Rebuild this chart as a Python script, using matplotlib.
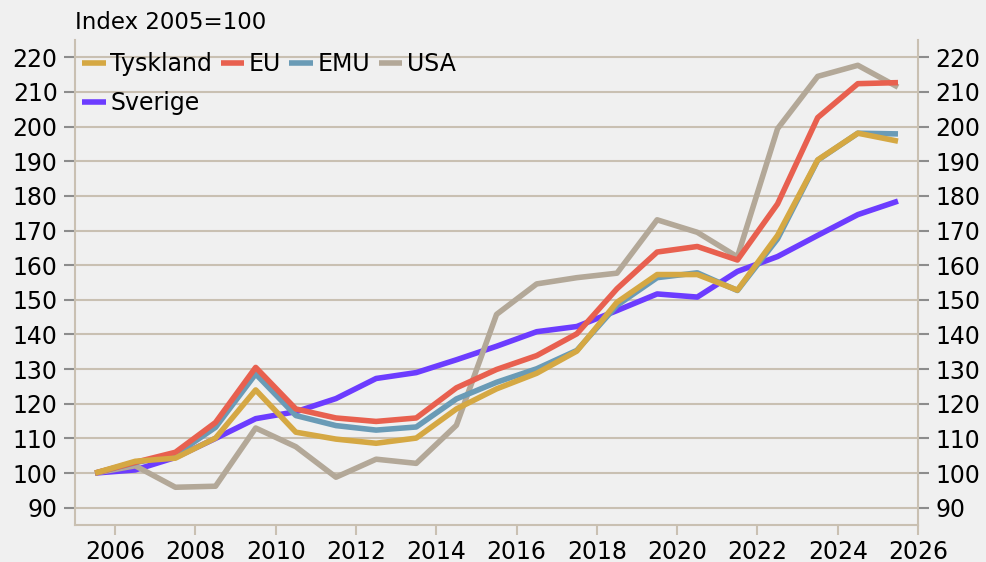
import numpy as np
import matplotlib
matplotlib.use("Agg")
import matplotlib.pyplot as plt

# Årsdata, ritas mitt i året (2005.5 ... 2025.5)
years = np.arange(2005, 2026)

tyskland = [100.0, 103.4, 104.3, 110.1, 124.0, 111.8, 109.8, 108.6, 110.1, 118.5,
            124.3, 128.8, 135.2, 149.3, 157.3, 157.3, 152.8, 168.6, 190.4, 198.1, 195.8]
eu = [100.0, 103.1, 106.0, 114.6, 130.5, 118.5, 115.9, 114.9, 115.9, 124.6,
      129.9, 133.9, 140.2, 153.2, 163.8, 165.4, 161.5, 177.7, 202.6, 212.4, 212.7]
emu = [100.0, 103.0, 105.3, 113.2, 128.6, 116.6, 113.7, 112.4, 113.3, 121.4,
       126.2, 130.1, 135.4, 148.4, 156.4, 157.8, 152.7, 167.6, 190.3, 198.1, 197.9]
usa = [100.0, 102.1, 95.9, 96.2, 113.0, 107.6, 98.8, 104.0, 102.8, 113.8,
       145.8, 154.6, 156.4, 157.7, 173.1, 169.5, 162.4, 199.4, 214.5, 217.7, 211.4]
sverige = [100.0, 100.9, 104.5, 110.0, 115.7, 117.7, 121.5, 127.3, 129.0, 132.7,
           136.6, 140.8, 142.3, 146.9, 151.7, 150.8, 158.2, 162.5, 168.6, 174.6, 178.5]

BG = "#f0f0f0"
GRID = "#c9c0b2"
FONT = 17

plt.rcParams["font.family"] = ["DejaVu Sans"]

fig = plt.figure(figsize=(9.86, 5.62), dpi=100, facecolor=BG)
ax = fig.add_axes([0.0761, 0.0658, 0.855, 0.863], facecolor=BG)

x = years + 0.5
lw = 4.0
h_sve, = ax.plot(x, sverige, color="#6c3cff", lw=lw, label="Sverige", solid_capstyle="butt")
h_usa, = ax.plot(x, usa, color="#b3a898", lw=lw, label="USA", solid_capstyle="butt")
h_emu, = ax.plot(x, emu, color="#6a9bb6", lw=lw, label="EMU", solid_capstyle="butt")
h_eu, = ax.plot(x, eu, color="#e8604f", lw=lw, label="EU", solid_capstyle="butt")
h_ty, = ax.plot(x, tyskland, color="#d5a843", lw=lw, label="Tyskland", solid_capstyle="butt")

ax.set_xlim(2005, 2026)
ax.set_ylim(85, 225)
ax.set_xticks(np.arange(2006, 2027, 2))
ax.set_yticks(np.arange(90, 221, 10))

ax.yaxis.grid(True, color=GRID, lw=1.5)
ax.set_axisbelow(True)

for side in ["left", "right", "bottom"]:
    ax.spines[side].set_color(GRID)
    ax.spines[side].set_linewidth(1.5)
ax.spines["top"].set_visible(False)

ax.tick_params(axis="y", which="both", left=True, right=True, labelleft=True,
               labelright=True, direction="out", length=8, width=1.5,
               color="#8c8c8c", labelsize=FONT, pad=4.5)
ax.tick_params(axis="x", direction="out", length=7, width=1.5, color=GRID,
               labelsize=FONT, pad=3.5)

fig.text(75 / 986, 1 - 29 / 562, "Index 2005=100", fontsize=16.5,
         ha="left", va="baseline")

handles = [h_ty, h_sve, h_eu, h_emu, h_usa]
ax.legend(handles=handles, labels=[h.get_label() for h in handles], ncol=4,
          loc="upper left", bbox_to_anchor=(0.0, 1.0 - 5 / 485), frameon=False,
          fontsize=FONT, handlelength=1.0, handletextpad=0.2,
          columnspacing=0.35, labelspacing=0.65, borderaxespad=0.1,
          borderpad=0.2)

fig.savefig("out.png", dpi=100, facecolor=BG)
